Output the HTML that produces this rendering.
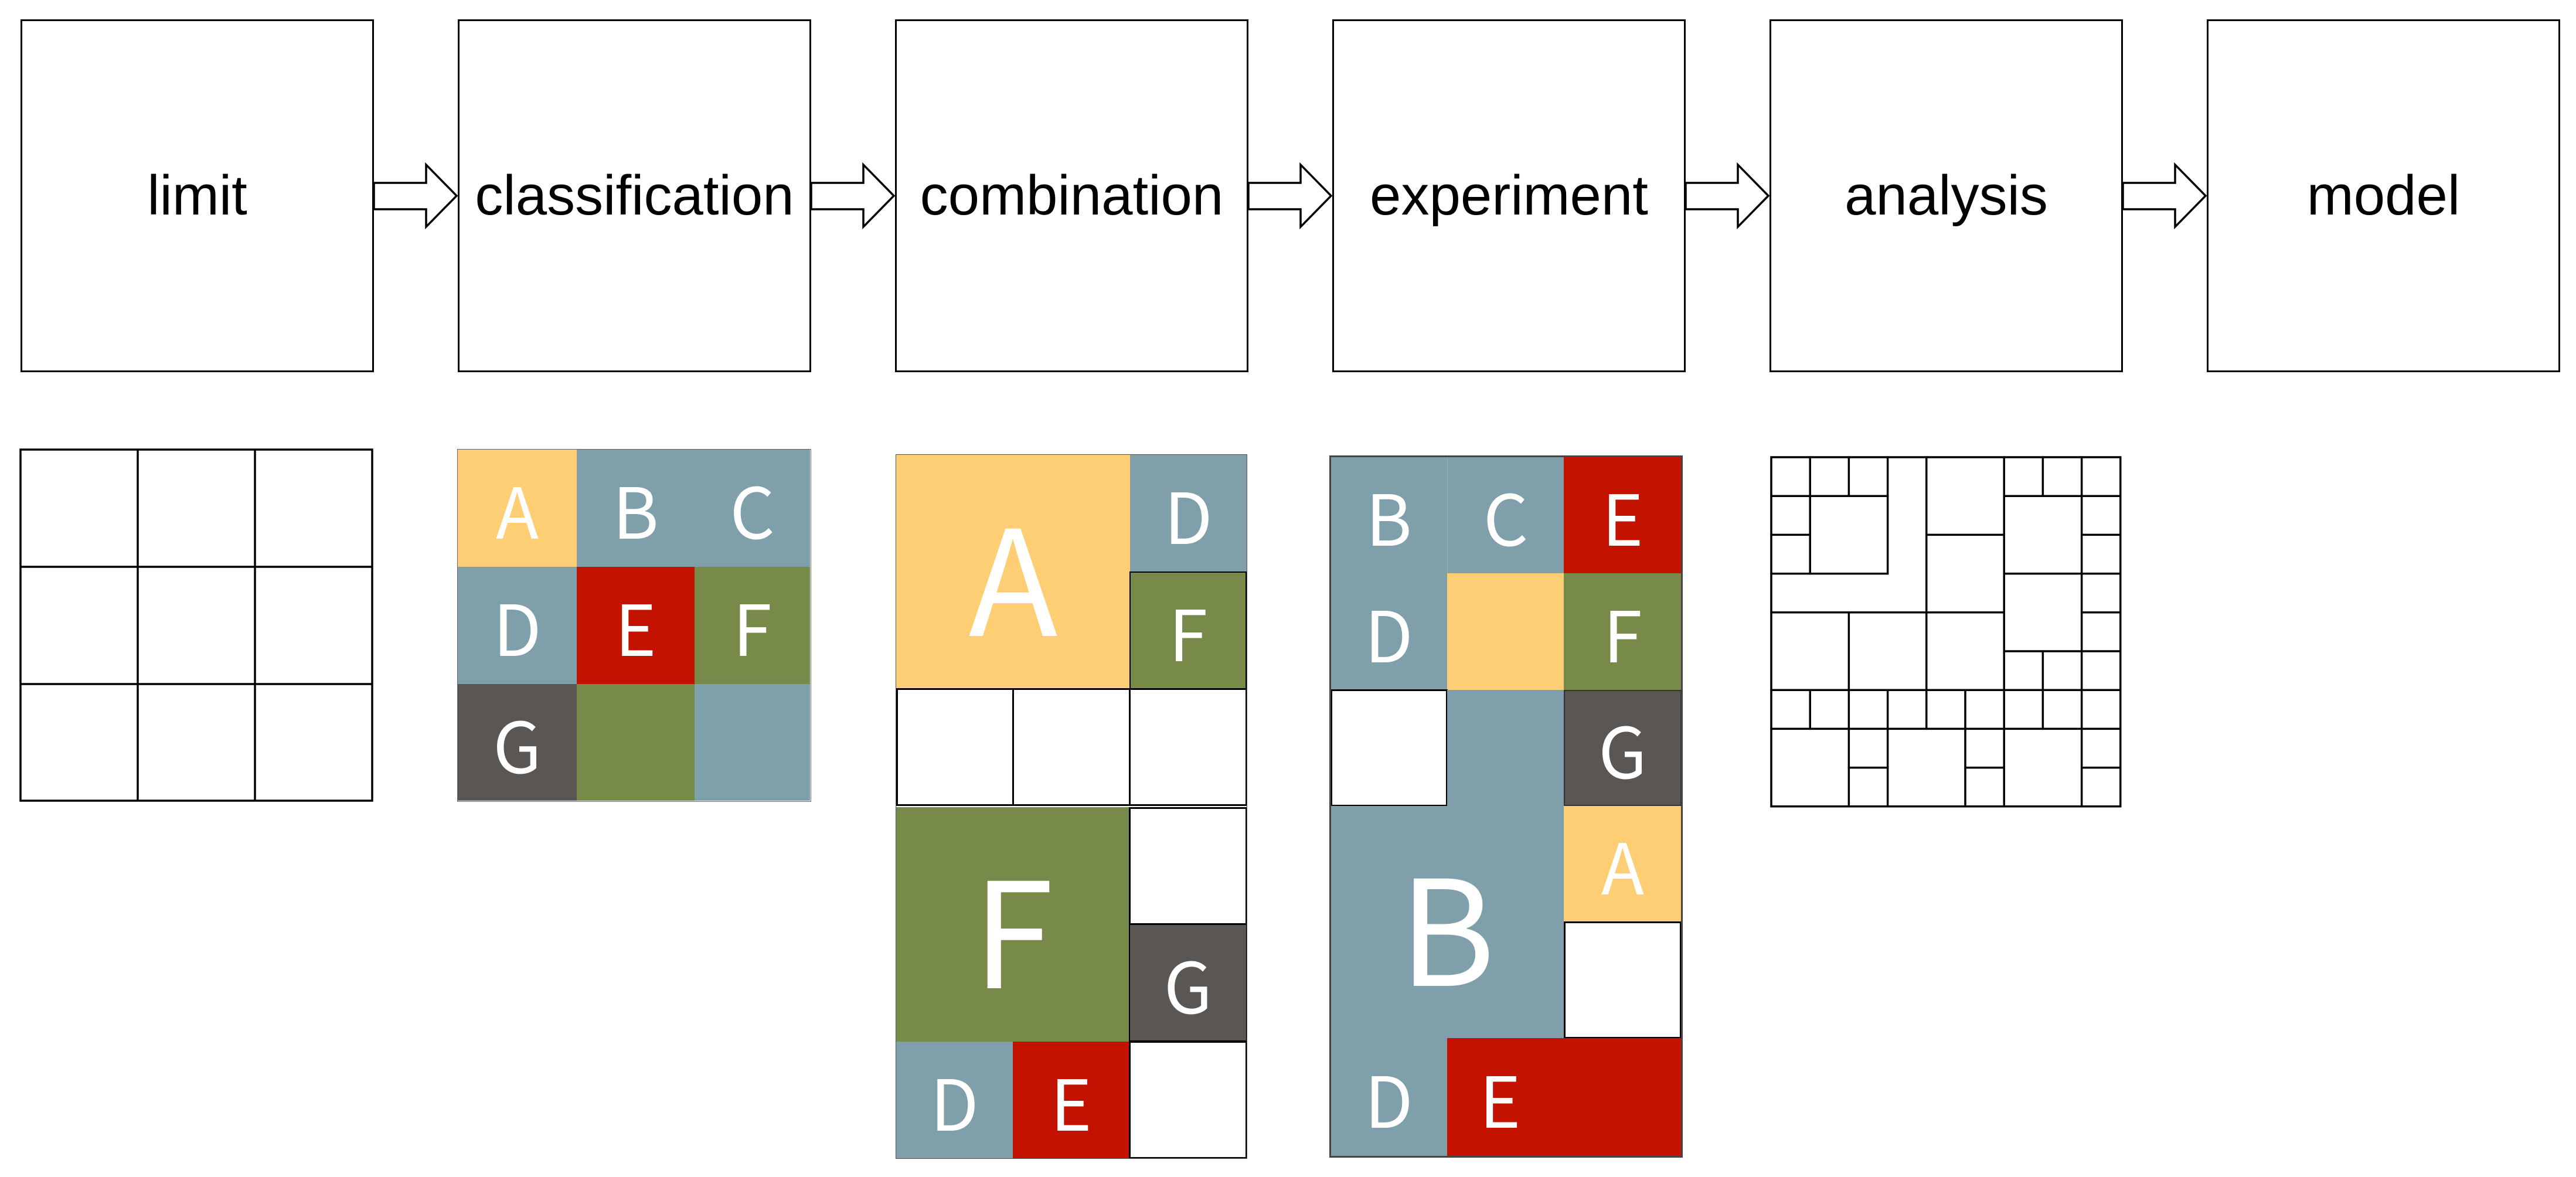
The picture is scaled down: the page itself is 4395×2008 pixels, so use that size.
<!DOCTYPE html>
<html><head><meta charset="utf-8"><style>
html,body{margin:0;padding:0;background:#fff;}
body{width:4395px;height:2008px;position:relative;overflow:hidden;}
.b{position:absolute;top:33px;width:603px;height:602px;box-sizing:border-box;border:3.5px solid #000;display:flex;align-items:center;justify-content:center;font-family:"Liberation Sans",Arial,sans-serif;font-size:96px;color:#000;}
.b span{position:relative;top:0px;}
.c{position:absolute;box-sizing:border-box;display:flex;align-items:center;justify-content:center;color:#fff;font-family:"Noto Sans CJK SC","Liberation Sans",sans-serif;font-size:120px;line-height:1;}
.w{background:#fff;border:3px solid #000;}
.y{background:#FECE74;}.bl{background:#7FA0AB;}.r{background:#C41200;}.o{background:#788A49;}.g{background:#595654;}
.big{font-size:250px;}
</style></head><body>
<div class="b" style="left:35px"><span>limit</span></div>
<div class="b" style="left:781px"><span>classification</span></div>
<div class="b" style="left:1527px"><span>combination</span></div>
<div class="b" style="left:2273px"><span>experiment</span></div>
<div class="b" style="left:3019px"><span>analysis</span></div>
<div class="b" style="left:3765px"><span>model</span></div>
<svg width="4395" height="2008" style="position:absolute;left:0;top:0" xmlns="http://www.w3.org/2000/svg">
<g fill="#fff" stroke="#000" stroke-width="3.5" stroke-linejoin="miter">
<polygon points="638,312 727,312 727,281 779,334 727,387 727,357 638,357"/>
<polygon points="1384,312 1473,312 1473,281 1525,334 1473,387 1473,357 1384,357"/>
<polygon points="2130,312 2219,312 2219,281 2271,334 2219,387 2219,357 2130,357"/>
<polygon points="2876,312 2965,312 2965,281 3017,334 2965,387 2965,357 2876,357"/>
<polygon points="3622,312 3711,312 3711,281 3763,334 3711,387 3711,357 3622,357"/>
</g>
<g fill="none" stroke="#000" stroke-width="3.5">
<rect x="35" y="767" width="600" height="599"/>
<line x1="235" y1="767" x2="235" y2="1366"/><line x1="435" y1="767" x2="435" y2="1366"/>
<line x1="35" y1="967" x2="635" y2="967"/><line x1="35" y1="1167" x2="635" y2="1167"/>
</g>
</svg>
<!-- classification -->
<div class="c y" style="left:781px;top:767px;width:203px;height:200px">A</div>
<div class="c bl" style="left:984px;top:767px;width:201px;height:200px">B</div>
<div class="c bl" style="left:1185px;top:767px;width:197px;height:200px">C</div>
<div class="c bl" style="left:781px;top:967px;width:203px;height:200px">D</div>
<div class="c r" style="left:984px;top:967px;width:201px;height:200px">E</div>
<div class="c o" style="left:1185px;top:967px;width:197px;height:200px">F</div>
<div class="c g" style="left:781px;top:1167px;width:203px;height:199px">G</div>
<div class="c o" style="left:984px;top:1167px;width:201px;height:199px"></div>
<div class="c bl" style="left:1185px;top:1167px;width:197px;height:199px"></div>
<div style="position:absolute;left:780px;top:766px;width:602px;height:600px;border:1px solid #666;"></div>
<!-- combination -->
<div class="c y big" style="left:1529px;top:776px;width:399px;height:399px">A</div>
<div class="c bl" style="left:1928px;top:776px;width:199px;height:200px">D</div>
<div class="c o" style="left:1927px;top:975px;width:200px;height:201px;border:2.5px solid #000">F</div>
<div class="c w" style="left:1529px;top:1174px;width:201px;height:201px"></div>
<div class="c w" style="left:1727px;top:1174px;width:202px;height:201px"></div>
<div class="c w" style="left:1926px;top:1174px;width:202px;height:201px"></div>
<div class="c o big" style="left:1529px;top:1377px;width:399px;height:400px">F</div>
<div class="c w" style="left:1926px;top:1377px;width:202px;height:201px"></div>
<div class="c g" style="left:1926px;top:1576px;width:202px;height:201px;border:2px solid #000">G</div>
<div class="c bl" style="left:1529px;top:1777px;width:199px;height:200px">D</div>
<div class="c r" style="left:1728px;top:1777px;width:199px;height:200px">E</div>
<div class="c w" style="left:1926px;top:1776px;width:202px;height:201px"></div>
<div style="position:absolute;left:1528px;top:775px;width:600px;height:1202px;border:1px solid #555;box-sizing:border-box"></div>
<!-- experiment -->
<div class="c bl" style="left:2270px;top:779px;width:199px;height:398px;flex-direction:column;justify-content:space-around"><span>B</span><span>D</span></div>
<div class="c bl" style="left:2469px;top:779px;width:199px;height:199px;border-left:1px solid #8fb0ba">C</div>
<div class="c r" style="left:2668px;top:779px;width:201px;height:199px">E</div>
<div class="c y" style="left:2469px;top:978px;width:199px;height:199px"></div>
<div class="c o" style="left:2668px;top:978px;width:201px;height:199px">F</div>
<div class="c w" style="left:2270px;top:1176px;width:200px;height:200px"></div>
<div class="c bl" style="left:2469px;top:1177px;width:199px;height:198px"></div>
<div class="c g" style="left:2668px;top:1177px;width:201px;height:198px;border:2px solid #333">G</div>
<div class="c bl big" style="left:2270px;top:1375px;width:398px;height:396px">B</div>
<div class="c y" style="left:2668px;top:1375px;width:201px;height:198px">A</div>
<div class="c w" style="left:2668px;top:1572px;width:201px;height:200px"></div>
<div class="c bl" style="left:2270px;top:1771px;width:199px;height:202px">D</div>
<div class="c r" style="left:2469px;top:1771px;width:400px;height:202px;justify-content:flex-start;padding-left:55px">E</div>
<div style="position:absolute;left:2268px;top:777px;width:603px;height:1198px;border:3px solid #444;box-sizing:border-box"></div>
<!-- analysis -->
<svg width="4395" height="2008" style="position:absolute;left:0;top:0" xmlns="http://www.w3.org/2000/svg">
<g transform="translate(3022,780) scale(66.2)" fill="none" stroke="#000" stroke-width="0.05">
<rect x="0" y="0" width="9" height="9"/>
<rect x="0" y="0" width="1" height="1"/><rect x="1" y="0" width="1" height="1"/><rect x="2" y="0" width="1" height="1"/>
<rect x="0" y="1" width="1" height="1"/><rect x="0" y="2" width="1" height="1"/><rect x="1" y="1" width="2" height="2"/>
<polygon points="3,0 4,0 4,4 0,4 0,3 3,3"/>
<rect x="4" y="0" width="2" height="2"/><rect x="4" y="2" width="2" height="2"/>
<rect x="6" y="0" width="1" height="1"/><rect x="7" y="0" width="1" height="1"/>
<rect x="6" y="1" width="2" height="2"/><rect x="6" y="3" width="2" height="2"/>
<rect x="6" y="5" width="1" height="1"/><rect x="7" y="5" width="1" height="1"/>
<rect x="8" y="0" width="1" height="1"/><rect x="8" y="1" width="1" height="1"/><rect x="8" y="2" width="1" height="1"/>
<rect x="8" y="3" width="1" height="1"/><rect x="8" y="4" width="1" height="1"/><rect x="8" y="5" width="1" height="1"/>
<rect x="8" y="6" width="1" height="1"/><rect x="8" y="7" width="1" height="1"/><rect x="8" y="8" width="1" height="1"/>
<rect x="0" y="4" width="2" height="2"/><rect x="2" y="4" width="2" height="2"/><rect x="4" y="4" width="2" height="2"/>
<rect x="0" y="6" width="1" height="1"/><rect x="1" y="6" width="1" height="1"/><rect x="2" y="6" width="1" height="1"/>
<rect x="3" y="6" width="1" height="1"/><rect x="4" y="6" width="1" height="1"/><rect x="5" y="6" width="1" height="1"/>
<rect x="6" y="6" width="1" height="1"/><rect x="7" y="6" width="1" height="1"/>
<rect x="0" y="7" width="2" height="2"/><rect x="2" y="7" width="1" height="1"/><rect x="2" y="8" width="1" height="1"/>
<rect x="3" y="7" width="2" height="2"/><rect x="5" y="7" width="1" height="1"/><rect x="5" y="8" width="1" height="1"/>
<rect x="6" y="7" width="2" height="2"/>
</g>
</svg>
</body></html>
